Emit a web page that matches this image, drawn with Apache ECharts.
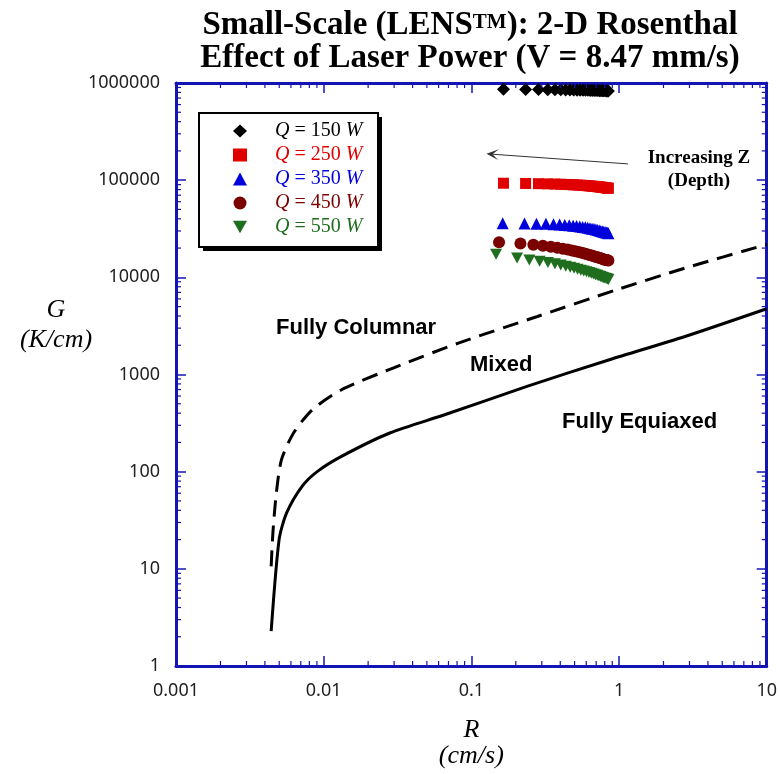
<!DOCTYPE html>
<html><head><meta charset="utf-8">
<script src="https://cdn.jsdelivr.net/npm/echarts@6/dist/echarts.min.js"></script>
<style>html,body{margin:0;padding:0;background:#fff}#c{width:780px;height:774px}</style>
</head><body><div id="c"></div>
<script>
// ---- tick labels ----
const xTickLabels = ['0.001', '0.01', '0.1', '1', '10'];
const yTickLabels = ['1', '10', '100', '1000', '10000', '100000', '1000000'];

// ---- scatter series (R in cm/s, G in K/cm) ----
const seriesNames = ['Q = 150 W', 'Q = 250 W', 'Q = 350 W', 'Q = 450 W', 'Q = 550 W'];
const R150 = [0.165,0.233,0.285,0.329,0.368,0.403,0.435,0.465,0.493,0.520,0.545,0.570,0.593,0.615,0.637,0.658,0.678,0.698,0.717,0.736,0.754,0.772,0.789,0.806,0.822,0.838,0.847];
const G150 = [860000,858000,856000,854000,852000,850000,848000,846000,845000,844000,843000,842000,841000,840000,839000,838000,837000,836000,835000,834000,833000,832000,831000,830000,829000,828000,827000];
const R250 = [0.165,0.233,0.285,0.329,0.368,0.403,0.435,0.465,0.493,0.520,0.545,0.570,0.593,0.615,0.637,0.658,0.678,0.698,0.717,0.736,0.754,0.772,0.789,0.806,0.822,0.838,0.847];
const G250 = [93000,92500,92000,91600,91200,90800,90400,90000,89600,89200,88800,88400,88000,87600,87200,86800,86400,86000,85600,85200,84800,84400,84000,83600,83200,82800,82600];
const R350 = [0.163,0.229,0.276,0.320,0.360,0.396,0.429,0.460,0.489,0.516,0.542,0.567,0.591,0.614,0.636,0.657,0.677,0.697,0.716,0.735,0.753,0.771,0.789,0.806,0.822,0.838,0.847];
const G350 = [36100,35900,35700,35500,35200,34900,34600,34300,34000,33700,33400,33000,32700,32400,32000,31700,31400,31000,30700,30400,30000,29700,29400,29100,28900,28700,28500];
const R450 = [0.154,0.215,0.263,0.305,0.345,0.382,0.416,0.448,0.478,0.506,0.533,0.559,0.584,0.608,0.631,0.653,0.674,0.694,0.714,0.733,0.751,0.769,0.787,0.804,0.821,0.837,0.847];
const G450 = [23000,22300,21600,21100,20600,20100,19700,19300,18900,18500,18200,17900,17600,17300,17000,16800,16500,16300,16100,15900,15700,15500,15300,15200,15100,15000,14900];
const R550 = [0.147,0.204,0.247,0.290,0.330,0.368,0.403,0.436,0.467,0.496,0.524,0.551,0.577,0.602,0.626,0.649,0.671,0.692,0.712,0.731,0.750,0.768,0.786,0.803,0.820,0.836,0.847];
const G550 = [17300,15800,15100,14600,14200,13800,13400,13000,12700,12400,12100,11800,11600,11400,11200,11000,10800,10600,10500,10300,10200,10000,9900,9800,9700,9600,9500];

// ---- boundary curves ----
const equiaxedR = [0.00441,0.00499,0.00561,0.00714,0.00908,0.0132,0.0280,0.0659,0.238,0.861,2.80,10];
const equiaxedG = [2.28,20.0,37.6,70.6,100.7,143.7,250,385,754,1419,2462,4750];
const columnarR = [0.00441,0.00453,0.00478,0.00518,0.00625,0.00838,0.0132,0.0295,0.0817,0.280,0.959,2.80,10];
const columnarG = [10.6,23.4,60.4,133,250,434,697,1165,2105,3955,7436,12440,21800];

// ---- annotation arrow (data coords) ----
const arrowFrom = [1.15, 147000];
const arrowTo = [0.139, 185000];

const colors = ['#000000', '#e00000', '#0000dd', '#7b0000', '#1e6e1e'];
const symbols = ['diamond', 'rect', 'triangle', 'circle', 'path://M0,0 L10,0 L5,9 Z'];
const symbolSizes = [13, 11, 12, 12, [12, 11]];
const Rs = [R150, R250, R350, R450, R550];
const Gs = [G150, G250, G350, G450, G550];

const AXIS = '#1414b4';
const zip = (a, b) => a.map((v, i) => [v, b[i]]);

const chart = echarts.init(document.getElementById('c'), null, {renderer: 'canvas'});

const xAxisBase = {
  type: 'log', logBase: 10, min: 0.001, max: 10, splitNumber: 4,
  axisLine: {show: true, onZero: false, lineStyle: {color: AXIS, width: 3}},
  axisTick: {show: true, inside: true, length: 10, lineStyle: {color: AXIS, width: 1.5}},
  splitLine: {show: false}, minorTick: {show: false}
};
const yAxisBase = {
  type: 'log', logBase: 10, min: 1, max: 1000000, splitNumber: 6,
  axisLine: {show: true, onZero: false, lineStyle: {color: AXIS, width: 3}},
  axisTick: {show: true, inside: true, length: 10, lineStyle: {color: AXIS, width: 1.5}},
  splitLine: {show: false}, minorTick: {show: false}
};

const scatterSeries = seriesNames.map((n, i) => ({
  name: n, type: 'scatter', xAxisIndex: 0, yAxisIndex: 0,
  data: zip(Rs[i], Gs[i]),
  symbol: symbols[i], symbolSize: symbolSizes[i],
  itemStyle: {color: colors[i], opacity: 1},
  z: 5
}));

const option = {
  animation: false,
  backgroundColor: '#fff',
  title: {
    text: '{a|Small-Scale (LENS}{s|TM}{a|): 2-D Rosenthal}\n{a|Effect of Laser Power (V = 8.47 mm/s)}',
    left: 465, top: 4, textAlign: 'center',
    textStyle: {
      rich: {
        a: {fontFamily: 'Liberation Serif', fontWeight: 'bold', fontSize: 33, color: '#000', lineHeight: 33},
        s: {fontFamily: 'Liberation Serif', fontWeight: 'bold', fontSize: 21, color: '#000', lineHeight: 33, padding: [0, 0, 5, 0]}
      }
    }
  },
  grid: {left: 176, right: 11, top: 83, bottom: 107.5, containLabel: false},
  xAxis: [
    Object.assign({}, xAxisBase, {
      position: 'bottom',
      axisLabel: {
        show: true, margin: 16, color: '#222', fontFamily: 'Noto Sans', fontSize: 18,
        formatter: v => xTickLabels[Math.round(Math.log10(v)) + 3]
      },
      name: '{i|R}\n{i|(cm/s)}', nameLocation: 'middle', nameGap: 51,
      nameTextStyle: {rich: {i: {fontFamily: 'Liberation Serif', fontStyle: 'italic', fontSize: 26, color: '#000', lineHeight: 26}}}
    }),
    Object.assign({}, xAxisBase, {position: 'top', axisLabel: {show: false}})
  ],
  yAxis: [
    Object.assign({}, yAxisBase, {
      position: 'left',
      axisLabel: {
        show: true, margin: 16, color: '#222', fontFamily: 'Noto Sans', fontSize: 18,
        formatter: v => yTickLabels[Math.round(Math.log10(v))]
      }
    }),
    Object.assign({}, yAxisBase, {position: 'right', axisLabel: {show: false}})
  ],
  legend: {
    show: true, orient: 'vertical', left: 233, top: 119, padding: 0,
    itemWidth: 14, itemHeight: 13, itemGap: 0, selectedMode: false, z: 10,
    backgroundColor: 'transparent', borderWidth: 0,
    data: seriesNames.map((n, i) => ({name: n, icon: symbols[i], textStyle: {color: colors[i]}})),
    formatter: n => '{g|}' + n.replace(/^Q/, '{i|Q}').replace(/W$/, '{i|W}'),
    textStyle: {
      fontFamily: 'Liberation Serif', fontSize: 20, lineHeight: 24,
      rich: {
        g: {width: 23, fontSize: 20, lineHeight: 24},
        i: {fontFamily: 'Liberation Serif', fontStyle: 'italic', fontSize: 20, lineHeight: 24}
      }
    }
  },
  series: [
    {
      name: 'Columnar boundary', type: 'line', xAxisIndex: 0, yAxisIndex: 0,
      data: zip(columnarR, columnarG), showSymbol: false, symbol: 'none', smooth: 0.25,
      lineStyle: {color: '#000', width: 3, type: [16, 9]}, z: 3
    },
    {
      name: 'Equiaxed boundary', type: 'line', xAxisIndex: 0, yAxisIndex: 0,
      data: zip(equiaxedR, equiaxedG), showSymbol: false, symbol: 'none', smooth: 0.25,
      lineStyle: {color: '#000', width: 3}, z: 3,
      markLine: {
        silent: true, animation: false,
        symbol: ['path://M5,0 L10,11 L5,5.5 L0,11 Z', 'none'], symbolSize: [11, 12],
        lineStyle: {color: '#333', width: 1, type: 'solid'},
        label: {show: false},
        data: [[{coord: arrowTo}, {coord: arrowFrom}]]
      }
    }
  ].concat(scatterSeries)
};
chart.setOption(option);

// annotation texts, legend frame and minor log ticks (ticks placed through the axis scales)
(function () {
  const txt = (x, y, text, font, align) => ({
    type: 'text', x, y, z: 4,
    style: {text, font, fill: '#000', stroke: 'none', lineWidth: 0, align: align || 'left', verticalAlign: 'middle'}
  });
  const els = [
    {type: 'rect', shape: {x: 203, y: 117, width: 179, height: 134}, style: {fill: '#000', stroke: 'none'}, z: 1},
    {type: 'rect', shape: {x: 199, y: 113, width: 179, height: 134}, style: {fill: '#fff', stroke: '#000', lineWidth: 2}, z: 2},
    txt(276, 328, 'Fully Columnar', 'bold 22px "Liberation Sans"'),
    txt(470, 365, 'Mixed', 'bold 22px "Liberation Sans"'),
    txt(562, 422, 'Fully Equiaxed', 'bold 22px "Liberation Sans"'),
    txt(699, 158, 'Increasing Z', 'bold 19px "Liberation Serif"', 'center'),
    txt(699, 181, '(Depth)', 'bold 19px "Liberation Serif"', 'center'),
    txt(56, 310, 'G', 'italic 26px "Liberation Serif"', 'center'),
    txt(56, 340, '(K/cm)', 'italic 26px "Liberation Serif"', 'center')
  ];
  const yB = chart.convertToPixel({yAxisIndex: 0}, 1);
  const yT = chart.convertToPixel({yAxisIndex: 0}, 1000000);
  const xL = chart.convertToPixel({xAxisIndex: 0}, 0.001);
  const xR = chart.convertToPixel({xAxisIndex: 0}, 10);
  const ln = (x1, y1, x2, y2) => ({type: 'line', shape: {x1, y1, x2, y2}, style: {stroke: AXIS, lineWidth: 1.2}, z: 6});
  for (let d = -3; d < 1; d++) for (let m = 2; m < 10; m++) {
    const px = chart.convertToPixel({xAxisIndex: 0}, m * Math.pow(10, d));
    els.push(ln(px, yB, px, yB - 5), ln(px, yT, px, yT + 5));
  }
  for (let d = 0; d < 6; d++) for (let m = 2; m < 10; m++) {
    const py = chart.convertToPixel({yAxisIndex: 0}, m * Math.pow(10, d));
    els.push(ln(xL, py, xL + 5, py), ln(xR, py, xR - 5, py));
  }
  chart.setOption({graphic: els});
})();
</script></body></html>
